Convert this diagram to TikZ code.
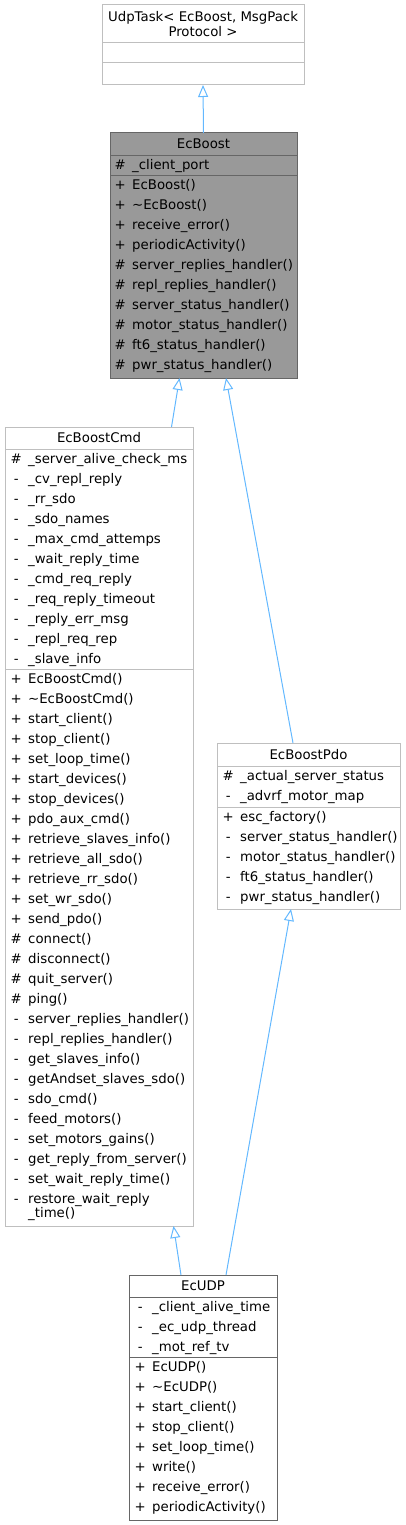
\documentclass[tikz,border=0pt]{standalone}
\usepackage{fontspec}
\setmainfont{DejaVu Sans}
\usetikzlibrary{arrows.meta}
\definecolor{edgeblue}{HTML}{63B8FF}
\definecolor{lightline}{HTML}{BFBFBF}
\definecolor{darkline}{HTML}{666666}
\definecolor{mainfill}{HTML}{999999}
\newcommand{\vis}[1]{\makebox[9pt][c]{#1}\hspace{7.5pt}}

\begin{document}
\begin{tikzpicture}[x=1pt,y=-1pt,
  font=\fontsize{13.3}{20}\selectfont,
  classbox/.style={rectangle, draw=lightline, line width=1pt, anchor=north west, inner sep=0pt, outer sep=0pt},
  docbox/.style={classbox, draw=darkline},
  mainbox/.style={classbox, draw=darkline, fill=mainfill},
  classtitle/.style={anchor=base, inner sep=0pt},
  members/.style={anchor=north west, inner sep=0pt},
  inherit/.style={draw=edgeblue, line width=1pt, -{Triangle[open, length=12pt, width=10pt]}}]
  \useasboundingbox (0,0) rectangle (405,1525);

  % UdpTask
  \node[classbox, minimum width=202, minimum height=80] (udptask) at (102,5) {};
  \node[classtitle, anchor=north] (udptask-title) at (203,10.9)
    {\fontsize{13.3}{15}\selectfont\begin{tabular}{@{}c@{}}UdpTask< EcBoost, MsgPack\\Protocol >\end{tabular}};
  \draw[lightline, line width=1pt] (102,42.7) -- (304,42.7);
  \draw[lightline, line width=1pt] (102,62.5) -- (304,62.5);

  % EcBoost
  \node[mainbox, minimum width=187, minimum height=245] (ecboost) at (110,133) {};
  \node[classtitle] (ecboost-title) at (203.5,148.5) {EcBoost};
  \draw[darkline, line width=1pt] (110,155.5) -- (297,155.5);
  \draw[darkline, line width=1pt] (110,175.7) -- (297,175.7);
  \node[members] (ecboost-attr) at (115.5,155.5) {\begin{tabular}{@{}l@{}}
    \vis{\#}\_client\_port
  \end{tabular}};
  \node[members] (ecboost-meth) at (115.5,175.7) {\begin{tabular}{@{}l@{}}
    \vis{+}EcBoost()\\
    \vis{+}\textasciitilde EcBoost()\\
    \vis{+}receive\_error()\\
    \vis{+}periodicActivity()\\
    \vis{\#}server\_replies\_handler()\\
    \vis{\#}repl\_replies\_handler()\\
    \vis{\#}server\_status\_handler()\\
    \vis{\#}motor\_status\_handler()\\
    \vis{\#}ft6\_status\_handler()\\
    \vis{\#}pwr\_status\_handler()
  \end{tabular}};

  % EcBoostCmd
  \node[classbox, minimum width=188, minimum height=799] (ecboostcmd) at (5,427) {};
  \node[classtitle] (ecboostcmd-title) at (99,442.7) {EcBoostCmd};
  \draw[lightline, line width=1pt] (5,449) -- (193,449);
  \draw[lightline, line width=1pt] (5,669) -- (193,669);
  \node[members] (ecboostcmd-attr) at (11.5,449) {\begin{tabular}{@{}l@{}}
    \vis{\#}\_server\_alive\_check\_ms\\
    \vis{-}\_cv\_repl\_reply\\
    \vis{-}\_rr\_sdo\\
    \vis{-}\_sdo\_names\\
    \vis{-}\_max\_cmd\_attemps\\
    \vis{-}\_wait\_reply\_time\\
    \vis{-}\_cmd\_req\_reply\\
    \vis{-}\_req\_reply\_timeout\\
    \vis{-}\_reply\_err\_msg\\
    \vis{-}\_repl\_req\_rep\\
    \vis{-}\_slave\_info
  \end{tabular}};
  \node[members] (ecboostcmd-meth) at (11.5,669) {\begin{tabular}{@{}l@{}}
    \vis{+}EcBoostCmd()\\
    \vis{+}\textasciitilde EcBoostCmd()\\
    \vis{+}start\_client()\\
    \vis{+}stop\_client()\\
    \vis{+}set\_loop\_time()\\
    \vis{+}start\_devices()\\
    \vis{+}stop\_devices()\\
    \vis{+}pdo\_aux\_cmd()\\
    \vis{+}retrieve\_slaves\_info()\\
    \vis{+}retrieve\_all\_sdo()\\
    \vis{+}retrieve\_rr\_sdo()\\
    \vis{+}set\_wr\_sdo()\\
    \vis{+}send\_pdo()\\
    \vis{\#}connect()\\
    \vis{\#}disconnect()\\
    \vis{\#}quit\_server()\\
    \vis{\#}ping()\\
    \vis{-}server\_replies\_handler()\\
    \vis{-}repl\_replies\_handler()\\
    \vis{-}get\_slaves\_info()\\
    \vis{-}getAndset\_slaves\_sdo()\\
    \vis{-}sdo\_cmd()\\
    \vis{-}feed\_motors()\\
    \vis{-}set\_motors\_gains()\\
    \vis{-}get\_reply\_from\_server()\\
    \vis{-}set\_wait\_reply\_time()\\
    \vis{-}restore\_wait\_reply\\[-6pt]
    \vis{}\_time()
  \end{tabular}};

  % EcBoostPdo
  \node[classbox, minimum width=183, minimum height=166] (ecboostpdo) at (217,743) {};
  \node[classtitle] (ecboostpdo-title) at (308.5,759.7) {EcBoostPdo};
  \draw[lightline, line width=1pt] (217,766) -- (400,766);
  \draw[lightline, line width=1pt] (217,807) -- (400,807);
  \node[members] (ecboostpdo-attr) at (223.5,766) {\begin{tabular}{@{}l@{}}
    \vis{\#}\_actual\_server\_status\\
    \vis{-}\_advrf\_motor\_map
  \end{tabular}};
  \node[members] (ecboostpdo-meth) at (223.5,807) {\begin{tabular}{@{}l@{}}
    \vis{+}esc\_factory()\\
    \vis{-}server\_status\_handler()\\
    \vis{-}motor\_status\_handler()\\
    \vis{-}ft6\_status\_handler()\\
    \vis{-}pwr\_status\_handler()
  \end{tabular}};

  % EcUDP
  \node[docbox, minimum width=148, minimum height=245] (ecudp) at (129,1275) {};
  \node[classtitle] (ecudp-title) at (203,1290.7) {EcUDP};
  \draw[darkline, line width=1pt] (129,1297) -- (277,1297);
  \draw[darkline, line width=1pt] (129,1357) -- (277,1357);
  \node[members] (ecudp-attr) at (135.5,1297) {\begin{tabular}{@{}l@{}}
    \vis{-}\_client\_alive\_time\\
    \vis{-}\_ec\_udp\_thread\\
    \vis{-}\_mot\_ref\_tv
  \end{tabular}};
  \node[members] (ecudp-meth) at (135.5,1357) {\begin{tabular}{@{}l@{}}
    \vis{+}EcUDP()\\
    \vis{+}\textasciitilde EcUDP()\\
    \vis{+}start\_client()\\
    \vis{+}stop\_client()\\
    \vis{+}set\_loop\_time()\\
    \vis{+}write()\\
    \vis{+}receive\_error()\\
    \vis{+}periodicActivity()
  \end{tabular}};

  % inheritance
  \draw[inherit] (ecboost.north) -- (udptask.south);
  \draw[inherit] ([xshift=72.5]ecboostcmd.north) -- ([xshift=-24]ecboost.south);
  \draw[inherit] ([xshift=-15.5]ecboostpdo.north) -- ([xshift=22.5]ecboost.south);
  \draw[inherit] ([xshift=-22]ecudp.north) -- ([xshift=74.5]ecboostcmd.south);
  \draw[inherit] ([xshift=23]ecudp.north) -- ([xshift=-17.5]ecboostpdo.south);
\end{tikzpicture}
\end{document}
